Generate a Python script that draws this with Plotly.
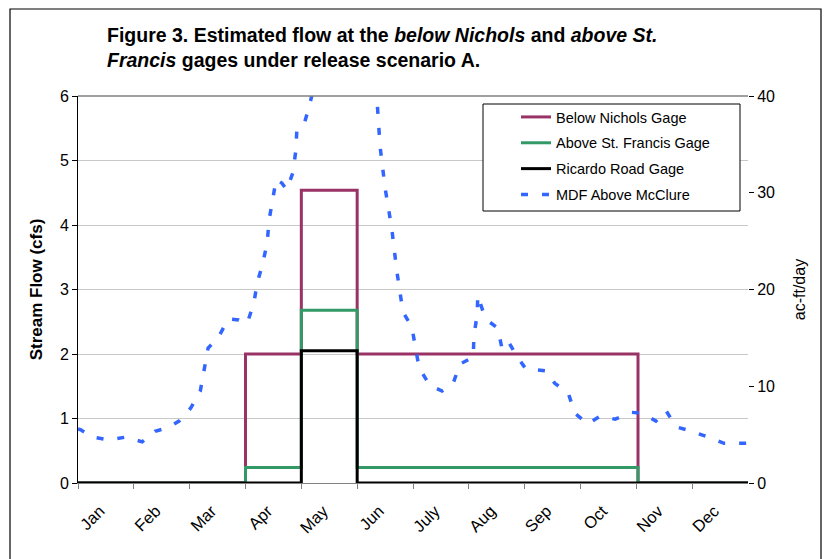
import plotly.graph_objects as go

# Month tick labels (ticks at month starts, x in month units 0..12)
months = ["Jan", "Feb", "Mar", "Apr", "May", "Jun", "July", "Aug", "Sep", "Oct", "Nov", "Dec"]
month_pos = list(range(12))

# Step series (cfs), x in month units
step_x = [0, 3, 4, 5, 10.03, 12]
below_nichols = [0, 2.0, 4.54, 2.0, 0, 0]
above_st_francis = [0, 0.24, 2.68, 0.24, 0, 0]
ricardo_road = [0, 0, 2.05, 0, 0, 0]

# MDF Above McClure (ac-ft/day, right axis)
mdf_x = [0.0, 0.05, 0.25, 0.56, 0.86, 1.15, 1.38, 1.61, 1.81, 2.02, 2.19, 2.33, 2.51, 2.69, 2.88,
         3.03, 3.15, 3.21, 3.31, 3.39, 3.42, 3.49, 3.55, 3.65, 3.74, 3.85, 3.90, 3.92, 4.05,
         4.14, 4.33, 4.60, 4.87, 5.14, 5.36, 5.41, 5.50, 5.62, 5.71, 5.82, 5.98, 6.05, 6.11,
         6.30, 6.52, 6.72, 6.84, 7.08, 7.09, 7.15, 7.16, 7.25, 7.38, 7.52, 7.59, 7.70, 7.85,
         8.02, 8.22, 8.38, 8.54, 8.78, 8.90, 9.13, 9.35, 9.62, 9.92, 10.12, 10.35, 10.53,
         10.71, 10.96, 11.28, 11.57, 11.91, 12.0]
mdf_y = [5.6, 5.5, 4.75, 4.45, 4.75, 4.25, 5.35, 5.7, 6.4, 7.75, 9.5, 13.95, 15.0, 16.95, 16.85,
         16.5, 18.6, 20.7, 22.7, 24.9, 27.1, 29.25, 31.4, 31.0, 30.3, 32.1, 34.3, 36.5, 37.1,
         38.9, 44, 50, 50, 45, 39.2, 34.8, 30.5, 26.3, 21.9, 17.7, 16.1, 13.95, 11.9,
         10.1, 9.5, 10.3, 12.3, 13.0, 15.2, 17.4, 19.4, 17.8, 16.6, 16.0, 14.0, 14.7, 13.2,
         11.8, 11.7, 11.6, 10.3, 9.3, 7.2, 6.1, 6.9, 6.6, 7.3, 7.2, 6.4, 7.5,
         5.8, 5.4, 4.75, 4.1, 4.1, 4.1]

FONT = "Liberation Sans, Arial, sans-serif"
PW, PH, L, T = 670, 387, 78, 96  # plot area size and origin in px


def px_x(x):
    return (x - L) / PW


def px_y(y):
    return (T + PH - y) / PH


fig = go.Figure()
fig.add_trace(go.Scatter(x=step_x, y=below_nichols, mode="lines", line_shape="hv",
                         name="Below Nichols Gage", legendgroup="a",
                         line=dict(color="#993366", width=3)))
fig.add_trace(go.Scatter(x=step_x, y=above_st_francis, mode="lines", line_shape="hv",
                         name="Above St. Francis Gage", legendgroup="b",
                         line=dict(color="#339966", width=3)))
fig.add_trace(go.Scatter(x=step_x, y=ricardo_road, mode="lines", line_shape="hv",
                         name="Ricardo Road Gage", legendgroup="c",
                         line=dict(color="#000000", width=3)))
fig.add_trace(go.Scatter(x=mdf_x, y=mdf_y, mode="lines", yaxis="y2",
                         name="MDF Above McClure", legendgroup="d",
                         line=dict(color="#3366FF", width=3.5, dash="7px,14px")))

fig.update_layout(
    width=831, height=559,
    margin=dict(l=78, r=83, t=96, b=76, autoexpand=False),
    paper_bgcolor="white", plot_bgcolor="white",
    font=dict(family=FONT, size=15, color="black"),
    showlegend=True,
    legend=dict(x=px_x(516), xanchor="left", y=px_y(101), yanchor="top",
                bgcolor="rgba(0,0,0,0)", borderwidth=0,
                font=dict(family=FONT, size=14.5, color="black"),
                traceorder="grouped", tracegroupgap=4),
    title=dict(
        text="<b>Figure 3. Estimated flow at the <i>below Nichols</i> and <i>above St.</i><br>"
             "<i>Francis</i> gages under release scenario A.</b>",
        x=107 / 831, xanchor="left", y=1 - 42 / 559, yanchor="top",
        font=dict(family=FONT, size=19.5, color="black")),
    xaxis=dict(range=[0, 12], tickmode="array", tickvals=month_pos, ticktext=months,
               tickangle=-45, ticks="outside", ticklen=5, tickcolor="#808080",
               showline=True, linecolor="#808080", linewidth=1, showgrid=False,
               zeroline=False, ticklabelshift=22, ticklabelstandoff=6,
               tickfont=dict(family=FONT, size=16.5)),
    yaxis=dict(range=[0, 6], dtick=1, ticks="outside", ticklen=5, tickcolor="black",
               showline=True, linecolor="black", linewidth=1,
               gridcolor="#c8c8c8", gridwidth=1, zeroline=False,
               title=dict(text="<b>Stream Flow (cfs)</b>", standoff=12,
                          font=dict(family=FONT, size=17)),
               tickfont=dict(family=FONT, size=16)),
    yaxis2=dict(range=[0, 40], dtick=10, overlaying="y", side="right",
                ticks="outside", ticklen=5, tickcolor="black",
                showline=False, showgrid=False, zeroline=False,
                title=dict(text="ac-ft/day", standoff=19,
                           font=dict(family=FONT, size=16)),
                tickfont=dict(family=FONT, size=16)),
    shapes=[
        dict(type="line", xref="paper", yref="paper", x0=0, x1=1, y0=1, y1=1,
             line=dict(color="#808080", width=1.5)),
        dict(type="rect", xref="paper", yref="paper",
             x0=px_x(10), x1=px_x(821), y0=px_y(575), y1=px_y(9),
             line=dict(color="black", width=1.2), layer="below"),
        dict(type="rect", xref="paper", yref="paper",
             x0=px_x(483), x1=px_x(740), y0=px_y(211), y1=px_y(104),
             line=dict(color="black", width=1), fillcolor="white", layer="above"),
    ],
)

fig.write_html("out.html", config={"displayModeBar": False},
               post_script="document.body.style.margin='0';")
